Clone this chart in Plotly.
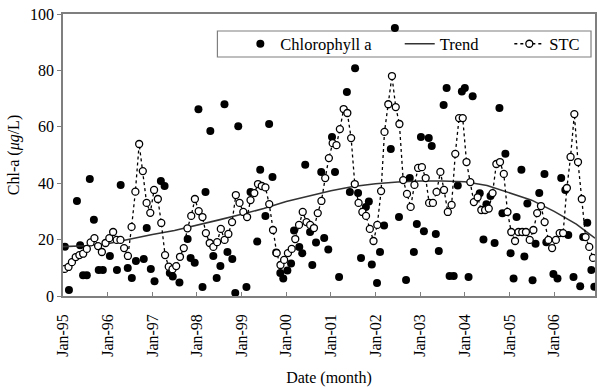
import numpy as np
import pandas as pd
import plotly.graph_objects as go

# ---- data ----
# STC: monthly values starting Jan-1995
stc_values = [
    9.6, 10.3, 12, 13.8, 14.5, 15, 16.7, 19, 20.5, 17.7, 15.6, 18.8,
    20.5, 22.7, 19.9, 19.9, 17, 14.2, 24.5, 37, 53.9, 44.3, 33, 29.5,
    37.6, 34.4, 25.9, 14.5, 10.4, 9.5, 10.6, 13.9, 17, 24, 28.4, 34.4,
    30.1, 28, 22.3, 18.8, 17.4, 19.1, 23.8, 19.9, 22, 26.2, 35.8, 33,
    29.8, 28, 34, 36.5, 39.7, 39, 38.5, 32.6, 23.4, 15.2, 11, 12.8,
    15.2, 16.7, 20.2, 25.2, 29.8, 26.2, 25.2, 24.1, 29.4, 33.7, 41.8, 48.9,
    54.2, 53.5, 59.2, 66.3, 64.9, 56, 39.7, 33, 29.8, 28.4, 23.8, 19.5,
    25.2, 37.2, 58.2, 68, 78, 67, 61, 41.1, 36.2, 31.6, 39.4, 45.4,
    45.7, 41.8, 33, 33, 36.9, 44, 37.6, 29.8, 32.3, 50.4, 63.1, 63.1,
    47.5, 40.4, 33.3, 35, 30.5, 30.5, 31, 36.5, 46.8, 47.5, 43.3, 29.8,
    22.7, 19.5, 22.7, 22.7, 22.7, 19.9, 23.4, 29.4, 31.9, 26.2, 19.9, 17,
    19.9, 22.3, 22.3, 38.3, 49.3, 64.5, 47.5, 34.4, 20.9, 17.4, 13.5,
]

# Chlorophyll a observations: time (months since Jan-1995) and value
chl_month = [
    0.5, 1.6, 3.75, 4.6, 5.4, 6.4, 7.2, 8.3, 9.6, 10.7, 12.6, 14.5, 15.5, 17.4,
    18.5, 19.6, 21.7, 22.5, 23.6, 24.6, 26.3, 27.3, 28.7, 29.5, 31.3, 33.5,
    34.3, 35.4, 36.4, 37.5, 38.3, 39.6, 40.4, 41.3, 42.3, 43.4, 44.2, 45.5,
    46.3, 47.1, 49.3, 50.4, 52.2, 53.0, 54.4, 55.4, 56.3, 57.3, 58.4, 59.2,
    60.3, 61.3, 62.1, 63.5, 64.3, 65.1, 66.4, 67.0, 68.0, 69.4, 70.2, 71.3,
    72.3, 73.1, 74.2, 76.3, 77.1, 78.5, 79.3, 80.1, 81.4, 82.2, 83.0, 84.4,
    85.2, 86.3, 88.1, 89.2, 90.3, 92.2, 93.2, 94.3, 95.1, 96.2, 97.0, 98.3,
    99.1, 100.2, 101.0, 102.3, 103.1, 103.9, 105.0, 106.1, 107.2, 108.0,
    109.0, 110.1, 112.0, 113.0, 113.8, 114.9, 116.0, 117.3, 118.1, 118.9,
    120.3, 121.1, 121.9, 123.2, 124.0, 124.8, 126.2, 127.0, 128.0, 129.4,
    129.9, 131.8, 132.9, 133.9, 135.0, 135.8, 137.2, 139.0, 139.8, 140.9,
    142.0, 142.8,
]
chl_values = [
    17.5, 2.1, 33.7, 18, 7.4, 7.4, 41.5, 27, 9.2, 9.2, 14.2, 9.2, 39.4, 9.9,
    6.4, 12.4, 13.1, 24.1, 9.6, 5.2, 40.8, 39, 8.2, 6.9, 4.8, 20.2,
    13.5, 11.8, 66.2, 3.2, 36.9, 58.5, 14.2, 6.4, 10.6, 68, 15.6, 13.1,
    1.1, 60.2, 3.2, 36.9, 19.3, 44.8, 28.4, 61, 42.2, 15.4, 8.2, 6.2,
    9, 11.5, 23.2, 17.4, 15.2, 46.5, 22.7, 11, 19, 44, 20.6, 16.5,
    56.4, 44, 6.7, 72.3, 36.9, 80.8, 36.5, 13.5, 31.6, 33.5, 11.2, 4.6,
    15.6, 25, 52.1, 95, 28, 5.7, 41.8, 15.6, 25.5, 56.4, 23, 56,
    53.2, 22, 16, 67.7, 73.8, 7.1, 7.1, 39.2, 72.5, 73.8,
    6.7, 70.8, 36.4, 20, 32.5, 35.5, 18.8, 66.7, 29.3, 50.4,
    15.2, 6.2, 28, 44.8, 14, 32.8, 5.6, 18.5, 36.5, 43.3,
    19.1, 7.8, 6.2, 41.8, 37.6, 21.6, 6.7, 3.5, 20.9, 26,
    9.2, 3.3,
]

# Trend: months since Jan-1995 and value
trend_month = [0, 6, 12, 18, 24, 30, 36, 42, 48, 54, 60, 66, 72, 78, 84, 90,
               96, 102, 108, 114, 120, 126, 132, 138, 143]
trend_values = [17.5, 17.8, 18.5, 20.2, 21.8, 23.2, 25, 27, 29, 31, 33.5, 35.5,
                37.3, 38.8, 39.8, 40.4, 40.8, 40.8, 40.5, 39.2, 36.5, 34, 30,
                25.5, 20.5]

tick_years = list(range(1995, 2007))
tick_labels = ["Jan-%02d" % (y % 100) for y in tick_years]

# ---- build ----
start = pd.Timestamp("1995-01-01")
stc_dates = pd.date_range(start, periods=len(stc_values), freq="MS") + pd.Timedelta(days=14)
chl_dates = start + pd.to_timedelta(np.array(chl_month) * 30.4375, unit="D")
trend_dates = [start + pd.DateOffset(months=m) for m in trend_month]
tick_vals = [pd.Timestamp(f"{y}-01-01") for y in tick_years]

FONT = "Liberation Serif"
AX = "#7f7f7f"

fig = go.Figure()
fig.add_trace(go.Scatter(
    x=chl_dates, y=chl_values, mode="markers", name="Chlorophyll a",
    marker=dict(symbol="circle", size=8, color="black"), legend="legend",
))
fig.add_trace(go.Scatter(
    x=trend_dates, y=trend_values, mode="lines", name="Trend",
    line=dict(color="#333333", width=1.6), legend="legend2",
))
fig.add_trace(go.Scatter(
    x=stc_dates, y=stc_values, mode="lines+markers", name="STC",
    line=dict(color="black", width=1.3, dash="dot"),
    marker=dict(symbol="circle", size=7, color="white",
                line=dict(color="black", width=1.3)),
    legend="legend3",
))

L, R, T, B = 63, 1, 14, 91
PW, PH = 598 - L - R, 387 - T - B


def px_x(p):
    return (p - L) / PW


def px_y(p):
    return (387 - B - p) / PH


leg_common = dict(orientation="h", yanchor="middle", y=px_y(44), xanchor="left",
                  bgcolor="rgba(0,0,0,0)", borderwidth=0,
                  font=dict(family=FONT, size=16.5, color="black"))

fig.update_layout(
    width=598, height=387,
    margin=dict(l=L, r=R, t=T, b=B),
    paper_bgcolor="white", plot_bgcolor="white",
    font=dict(family=FONT, size=16, color="black"),
    showlegend=True,
    legend=dict(x=px_x(241), **leg_common),
    legend2=dict(x=px_x(401), **leg_common),
    legend3=dict(x=px_x(511), **leg_common),
    shapes=[dict(type="rect", xref="paper", yref="paper",
                 x0=px_x(218), x1=px_x(593), y0=px_y(57), y1=px_y(31),
                 line=dict(color=AX, width=1.2), fillcolor="white", layer="below")],
    xaxis=dict(
        type="date", range=["1995-01-01", "2006-12-01"],
        tickmode="array", tickvals=tick_vals, ticktext=tick_labels,
        tickangle=-90, ticks="inside", ticklen=4, tickcolor=AX,
        ticklabelstandoff=10,
        showline=True, linecolor=AX, linewidth=1.5, mirror=True,
        showgrid=False, zeroline=False,
        tickfont=dict(family=FONT, size=16),
        title=dict(text="Date (month)", font=dict(family=FONT, size=16), standoff=17),
    ),
    yaxis=dict(
        range=[0, 100], dtick=20, ticks="outside", ticklen=4, tickcolor=AX,
        showline=True, linecolor=AX, linewidth=1.5, mirror=True,
        showgrid=False, zeroline=False,
        tickfont=dict(family=FONT, size=16),
        title=dict(text="Chl-a (<i>μg</i>/L)", font=dict(family=FONT, size=16), standoff=6),
    ),
)

fig.write_html("out.html")
